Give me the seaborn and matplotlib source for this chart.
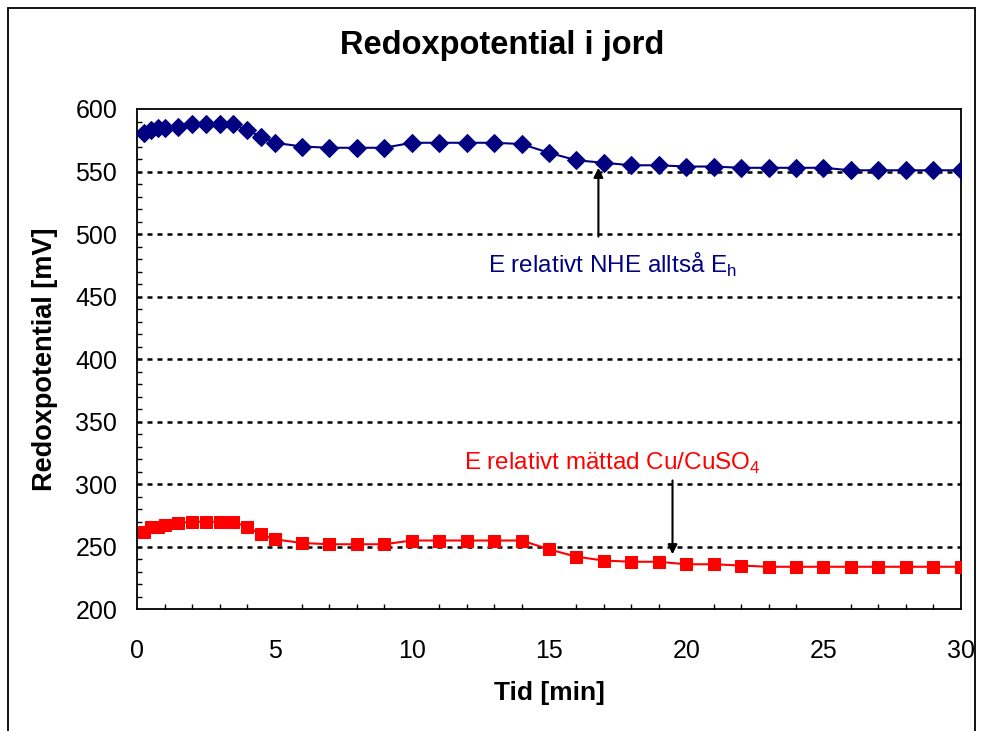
import matplotlib
matplotlib.use("Agg")
import matplotlib.pyplot as plt
from matplotlib.patches import Rectangle
from matplotlib.ticker import MultipleLocator
import seaborn as sns
import pandas as pd

# Measurement times [min]
tid = [0.25, 0.5, 0.75, 1, 1.5, 2, 2.5, 3, 3.5, 4, 4.5, 5, 6, 7, 8, 9, 10,
       11, 12, 13, 14, 15, 16, 17, 18, 19, 20, 21, 22, 23, 24, 25, 26, 27,
       28, 29, 30]

# Potential relative to the normal hydrogen electrode (Eh) [mV]
e_nhe = [581, 583, 585, 585, 586, 588, 588, 588, 588, 583, 578, 573, 570,
         569, 569, 569, 573, 573, 573, 573, 572, 565, 559, 557, 555, 555,
         554, 554, 553, 553, 553, 553, 551, 551, 551, 551, 551]

# Potential relative to saturated Cu/CuSO4 electrode [mV]
e_cu = [262, 266, 266, 267, 269, 270, 270, 270, 270, 266, 260, 256, 253,
        252, 252, 252, 255, 255, 255, 255, 255, 248, 242, 239, 238, 238,
        236, 236, 235, 234, 234, 234, 234, 234, 234, 234, 234]

y_ticks = [200, 250, 300, 350, 400, 450, 500, 550, 600]
x_ticks = [0, 5, 10, 15, 20, 25, 30]

sns.set_style("white")
plt.rcParams["font.family"] = ["Liberation Sans", "DejaVu Sans"]
plt.rcParams.update({"text.color": "black", "axes.labelcolor": "black",
                     "xtick.color": "black", "ytick.color": "black"})

W, H = 983, 731
fig = plt.figure(figsize=(W / 100, H / 100), dpi=100)
fig.patch.set_facecolor("white")

# outer chart frame
fig.add_artist(Rectangle((8 / W, -0.01), (975 - 8) / W, (H - 8) / H + 0.01,
                         transform=fig.transFigure, fill=False,
                         edgecolor="black", linewidth=1.3))

left, right, top, bottom = 137.3, 960.7, 109.0, 609.3
ax = fig.add_axes([left / W, (H - bottom) / H, (right - left) / W, (bottom - top) / H])

df = pd.DataFrame({"Tid": tid, "NHE": e_nhe, "Cu": e_cu})

navy = "#000080"
red = "#FF0000"

# dotted horizontal gridlines
for yv in y_ticks[1:-1]:
    ax.axhline(yv, color="black", linestyle=(0, (2, 2)), linewidth=1.8, zorder=1)

sns.lineplot(data=df, x="Tid", y="NHE", ax=ax, color=navy, linewidth=1.5,
             marker="D", markersize=9, markeredgecolor=navy, zorder=3)
sns.lineplot(data=df, x="Tid", y="Cu", ax=ax, color=red, linewidth=1.5,
             marker="s", markersize=8, markeredgecolor=red, zorder=3)

ax.set_xlim(0, 30)
ax.set_ylim(200, 600)
ax.set_xticks(x_ticks)
ax.set_yticks(y_ticks)
ax.xaxis.set_minor_locator(MultipleLocator(1))
ax.yaxis.set_minor_locator(MultipleLocator(10))
ax.tick_params(axis="both", which="major", direction="out", length=6.5,
               width=1.2, color="black", labelsize=18, labelcolor="black")
ax.tick_params(axis="y", which="major", pad=8)
ax.tick_params(axis="x", which="major", pad=15)
ax.tick_params(axis="both", which="minor", direction="in", length=3.6,
               width=1.0, color="black")
ax.tick_params(axis="x", which="minor", bottom=True)
ax.tick_params(axis="y", which="minor", left=True)
for s in ax.spines.values():
    s.set_visible(True)
    s.set_color("black")
    s.set_linewidth(1.3)
ax.set_xlabel("")
ax.set_ylabel("")
ax.grid(False)

# series annotations with arrows
ax.annotate("", xy=(16.8, 553), xytext=(16.8, 498),
            arrowprops=dict(arrowstyle="-|>", color="black", lw=1.5,
                            mutation_scale=14, shrinkA=0, shrinkB=0))
ax.text(17.3, 475, r"E relativt NHE alltså E$_\mathregular{h}$", color=navy,
        fontsize=17.5, ha="center", va="center")

ax.annotate("", xy=(19.5, 244), xytext=(19.5, 303),
            arrowprops=dict(arrowstyle="-|>", color="black", lw=1.5,
                            mutation_scale=14, shrinkA=0, shrinkB=0))
ax.text(17.3, 317, r"E relativt mättad Cu/CuSO$_\mathregular{4}$", color=red,
        fontsize=17.5, ha="center", va="center")

fig.text(502 / W, 1 - 54 / H, "Redoxpotential i jord", fontsize=23.5,
         fontweight="bold", ha="center", va="baseline", color="black")
fig.text(549 / W, 1 - 693 / H, "Tid [min]", fontsize=19, fontweight="bold",
         ha="center", va="center", color="black")
fig.text(45 / W, 1 - 359 / H, "Redoxpotential [mV]", fontsize=19.5,
         fontweight="bold", ha="center", va="center", rotation=90,
         color="black")

fig.savefig("out.png", dpi=100, facecolor="white")
